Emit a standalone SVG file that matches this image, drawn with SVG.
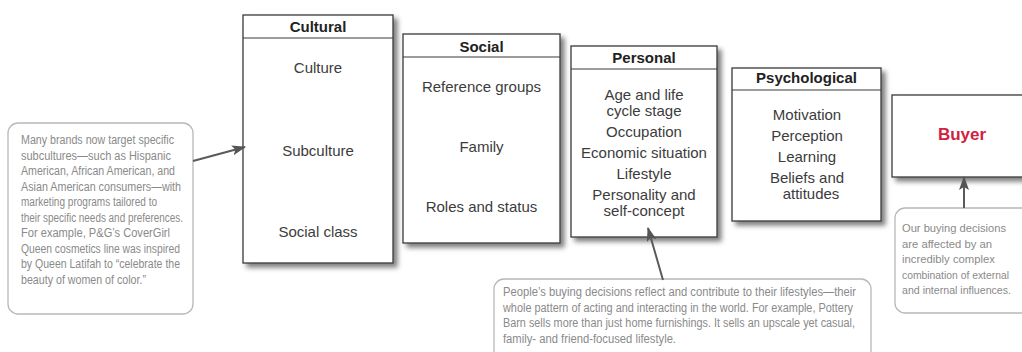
<svg xmlns="http://www.w3.org/2000/svg" width="1022" height="352" viewBox="0 0 1022 352">
  <style>
    .box { fill: #ffffff; stroke: #3a3a3a; stroke-width: 1.3; }
    .rule { stroke: #3a3a3a; stroke-width: 1.1; }
    .title { font-family: "Liberation Sans", Arial, sans-serif; font-size: 15px; font-weight: bold; fill: #222222; text-anchor: middle; }
    .item { font-family: "Liberation Sans", Arial, sans-serif; font-size: 15px; fill: #3c3c3c; text-anchor: middle; }
    .buyer { font-family: "Liberation Sans", Arial, sans-serif; font-size: 17px; font-weight: bold; fill: #d0223f; text-anchor: middle; }
    .note { fill: #ffffff; stroke: #b8b8b8; stroke-width: 1.3; }
    .notetext { font-family: "Liberation Sans Narrow", "Liberation Sans", Arial, sans-serif; font-size: 12px; fill: #8a8a8a; }
    .small { font-size: 11px; }
    .link { fill: none; stroke: #5a5a5a; stroke-width: 2; marker-end: url(#arrow); }
  </style>
  <defs>
    <filter id="shadow" x="-10%" y="-10%" width="130%" height="130%">
      <feDropShadow dx="4" dy="4" stdDeviation="2.5" flood-color="#000000" flood-opacity="0.5"/>
    </filter>
    <marker id="arrow" markerUnits="userSpaceOnUse" markerWidth="14" markerHeight="10" refX="13" refY="5" orient="auto">
      <path d="M0,0 L14,5 L0,10 L3,5 z" fill="#555555"/>
    </marker>
  </defs>

  <rect width="1022" height="352" fill="#ffffff"/>

  <!-- Cultural factors -->
  <g id="cultural">
    <rect class="box" x="243" y="15" width="150" height="248" filter="url(#shadow)"/>
    <line class="rule" x1="243" y1="38" x2="393" y2="38"/>
    <text class="title" x="318" y="32">Cultural</text>
    <text class="item" x="318" y="73">Culture</text>
    <text class="item" x="318" y="156">Subculture</text>
    <text class="item" x="318" y="237">Social class</text>
  </g>

  <!-- Social factors -->
  <g id="social">
    <rect class="box" x="403" y="34" width="157" height="209" filter="url(#shadow)"/>
    <line class="rule" x1="403" y1="57" x2="560" y2="57"/>
    <text class="title" x="481.5" y="52">Social</text>
    <text class="item" x="481.5" y="92">Reference groups</text>
    <text class="item" x="481.5" y="152">Family</text>
    <text class="item" x="481.5" y="212">Roles and status</text>
  </g>

  <!-- Personal factors -->
  <g id="personal">
    <rect class="box" x="571" y="46" width="146" height="191" filter="url(#shadow)"/>
    <line class="rule" x1="571" y1="69" x2="717" y2="69"/>
    <text class="title" x="644" y="63">Personal</text>
    <text class="item" x="644" y="100">Age and life</text>
    <text class="item" x="644" y="116">cycle stage</text>
    <text class="item" x="644" y="137">Occupation</text>
    <text class="item" x="644" y="158">Economic situation</text>
    <text class="item" x="644" y="179">Lifestyle</text>
    <text class="item" x="644" y="200">Personality and</text>
    <text class="item" x="644" y="216">self-concept</text>
  </g>

  <!-- Psychological factors -->
  <g id="psychological">
    <rect class="box" x="732" y="68" width="149" height="153" filter="url(#shadow)"/>
    <line class="rule" x1="732" y1="90" x2="881" y2="90"/>
    <text class="title" x="806.5" y="83">Psychological</text>
    <text class="item" x="807" y="120">Motivation</text>
    <text class="item" x="807" y="141">Perception</text>
    <text class="item" x="807" y="162">Learning</text>
    <text class="item" x="807" y="183">Beliefs and</text>
    <text class="item" x="811" y="199">attitudes</text>
  </g>

  <!-- Buyer -->
  <g id="buyer">
    <rect class="box" x="892" y="95" width="150" height="82" filter="url(#shadow)"/>
    <text class="buyer" x="962" y="140">Buyer</text>
  </g>

  <!-- Note on subcultures -->
  <g id="note-subculture">
    <rect class="note" x="8" y="123" width="185" height="191" rx="10"/>
    <text class="notetext" x="21" y="144" textLength="153" lengthAdjust="spacingAndGlyphs">Many brands now target specific</text>
    <text class="notetext" x="21" y="159.5" textLength="150" lengthAdjust="spacingAndGlyphs">subcultures—such as Hispanic</text>
    <text class="notetext" x="21" y="175" textLength="154" lengthAdjust="spacingAndGlyphs">American, African American, and</text>
    <text class="notetext" x="21" y="190.5" textLength="160" lengthAdjust="spacingAndGlyphs">Asian American consumers—with</text>
    <text class="notetext" x="21" y="206" textLength="136" lengthAdjust="spacingAndGlyphs">marketing programs tailored to</text>
    <text class="notetext" x="21" y="221.5" textLength="162" lengthAdjust="spacingAndGlyphs">their specific needs and preferences.</text>
    <text class="notetext" x="21" y="237" textLength="149" lengthAdjust="spacingAndGlyphs">For example, P&amp;G’s CoverGirl</text>
    <text class="notetext" x="21" y="252.5" textLength="159" lengthAdjust="spacingAndGlyphs">Queen cosmetics line was inspired</text>
    <text class="notetext" x="21" y="268" textLength="159" lengthAdjust="spacingAndGlyphs">by Queen Latifah to “celebrate the</text>
    <text class="notetext" x="21" y="283.5" textLength="125" lengthAdjust="spacingAndGlyphs">beauty of women of color.”</text>
  </g>

  <!-- Note on lifestyles -->
  <g id="note-lifestyle">
    <rect class="note" x="494" y="279" width="377" height="90" rx="10"/>
    <text class="notetext" x="503" y="296" textLength="353" lengthAdjust="spacingAndGlyphs">People’s buying decisions reflect and contribute to their lifestyles—their</text>
    <text class="notetext" x="503" y="311.6" textLength="350" lengthAdjust="spacingAndGlyphs">whole pattern of acting and interacting in the world. For example, Pottery</text>
    <text class="notetext" x="503" y="327.2" textLength="352" lengthAdjust="spacingAndGlyphs">Barn sells more than just home furnishings. It sells an upscale yet casual,</text>
    <text class="notetext" x="503" y="342.8" textLength="173" lengthAdjust="spacingAndGlyphs">family- and friend-focused lifestyle.</text>
  </g>

  <!-- Note on combined influences: its right side runs off the page -->
  <g id="note-influences">
    <path class="note" d="M1023,208 H905 A10,10 0 0 0 895,218 V303 A10,10 0 0 0 905,313 H1023"/>
    <text class="notetext small" x="902" y="232" textLength="104" lengthAdjust="spacingAndGlyphs">Our buying decisions</text>
    <text class="notetext small" x="902" y="247.5" textLength="90" lengthAdjust="spacingAndGlyphs">are affected by an</text>
    <text class="notetext small" x="902" y="263" textLength="93" lengthAdjust="spacingAndGlyphs">incredibly complex</text>
    <text class="notetext small" x="902" y="278.5" textLength="107" lengthAdjust="spacingAndGlyphs">combination of external</text>
    <text class="notetext small" x="902" y="294" textLength="109" lengthAdjust="spacingAndGlyphs">and internal influences.</text>
  </g>

  <!-- Pointers from notes to factors -->
  <g id="connectors">
    <line class="link" x1="193" y1="161" x2="245" y2="147"/>
    <line class="link" x1="663" y1="280" x2="648" y2="228"/>
    <line class="link" x1="964" y1="208" x2="964" y2="177"/>
  </g>
</svg>
